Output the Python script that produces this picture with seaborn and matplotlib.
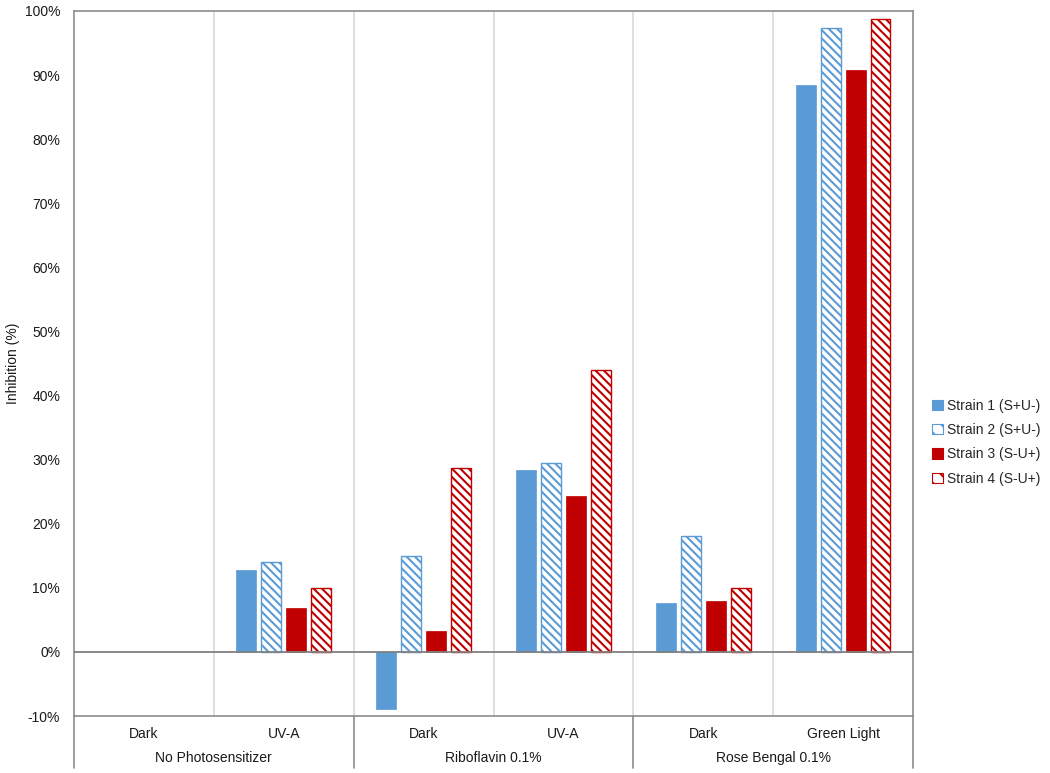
import numpy as np
import pandas as pd
import matplotlib
matplotlib.use("Agg")
import matplotlib.pyplot as plt
import matplotlib.transforms as mtransforms
from matplotlib.patches import Patch
from matplotlib.ticker import PercentFormatter
import seaborn as sns

sns.set_style("white")
plt.rcParams['font.family'] = ['Liberation Sans', 'DejaVu Sans']
plt.rcParams['hatch.linewidth'] = 1.5
plt.rcParams['axes.unicode_minus'] = False

# Datos (% de inhibicion)
conditions = ["Dark", "UV-A", "Dark", "UV-A", "Dark", "Green Light"]
groups = ["No Photosensitizer", "Riboflavin 0.1%", "Rose Bengal 0.1%"]
strains = ["Strain 1 (S+U-)", "Strain 2 (S+U-)", "Strain 3 (S-U+)", "Strain 4 (S-U+)"]
strain1 = [np.nan, 12.8, -8.9, 28.4, 7.7, 88.5]
strain2 = [np.nan, 14.1, 15.0, 29.5, 18.1, 97.4]
strain3 = [np.nan, 6.8, 3.2, 24.3, 8.0, 90.8]
strain4 = [np.nan, 10.0, 28.7, 44.0, 10.0, 98.7]

BLUE = "#5B9BD5"
RED = "#C00000"
colors = [BLUE, BLUE, RED, RED]
hatched = [False, True, False, True]

# keys unicos por condicion (Dark se repite)
keys = [f"{g}|{c}" for g, c in zip([groups[0]] * 2 + [groups[1]] * 2 + [groups[2]] * 2, conditions)]
rows = []
for s, vals in zip(strains, [strain1, strain2, strain3, strain4]):
    for k, v in zip(keys, vals):
        rows.append({"cond": k, "strain": s, "value": v})
df = pd.DataFrame(rows)

fig = plt.figure(figsize=(10.5, 7.73), dpi=100)
ax = fig.add_axes([0.0705, 0.0737, 0.799, 0.9121])

sns.barplot(data=df.dropna(), x="cond", y="value", hue="strain", order=keys,
            hue_order=strains, palette=colors, width=0.714, gap=0.2,
            errorbar=None, legend=False, ax=ax)

for cont, col, h in zip(ax.containers, colors, hatched):
    for bar in cont:
        if h:
            bar.set_facecolor("white")
            bar.set_edgecolor(col)
            bar.set_hatch("\\\\\\\\")
            bar.set_linewidth(1.0)
        else:
            bar.set_facecolor(col)
            bar.set_edgecolor(col)
            bar.set_linewidth(0.5)

ax.set_xlim(-0.5, 5.5)
ax.set_ylim(-10, 100)
ax.set_yticks(np.arange(-10, 101, 10))
ax.yaxis.set_major_formatter(PercentFormatter(100, decimals=0))
ax.set_xticks(range(6))
ax.set_xticklabels(conditions)
ax.tick_params(axis='x', length=0, pad=8, labelsize=10, colors="#1a1a1a")
ax.tick_params(axis='y', length=0, pad=10, labelsize=10, colors="#1a1a1a")
ax.set_xlabel("")
ax.set_ylabel("Inhibition (%)", fontsize=10, color="#1a1a1a", labelpad=3)

for sp in ax.spines.values():
    sp.set_color("#8c8c8c")
    sp.set_linewidth(1.2)

# lineas verticales entre categorias
for xv in [0.5, 1.5, 2.5, 3.5, 4.5]:
    ax.axvline(xv, color="#d9d9d9", lw=1.2, zorder=0)
ax.axhline(0, color="#808080", lw=1.3, zorder=3)

# eje x de dos niveles
trans = mtransforms.blended_transform_factory(ax.transData, ax.transAxes)
for xv in [-0.5, 1.5, 3.5, 5.5]:
    ax.plot([xv, xv], [0, -0.0738], transform=trans, color="#8c8c8c", lw=1.2, clip_on=False)
for i, g in enumerate(groups):
    ax.text(2 * i + 0.5, -0.0596, g, transform=trans, ha="center", va="center",
            fontsize=10, color="#1a1a1a")

handles = [Patch(facecolor=("white" if h else c), edgecolor=c, hatch=("\\\\" if h else None), lw=0.8)
           for c, h in zip(colors, hatched)]
fig.legend(handles, strains, loc="center left", bbox_to_anchor=(0.876, 0.428), frameon=False,
           fontsize=10, handlelength=0.75, handleheight=0.75, handletextpad=0.3, labelspacing=0.75)

fig.savefig("out.png", dpi=100)
